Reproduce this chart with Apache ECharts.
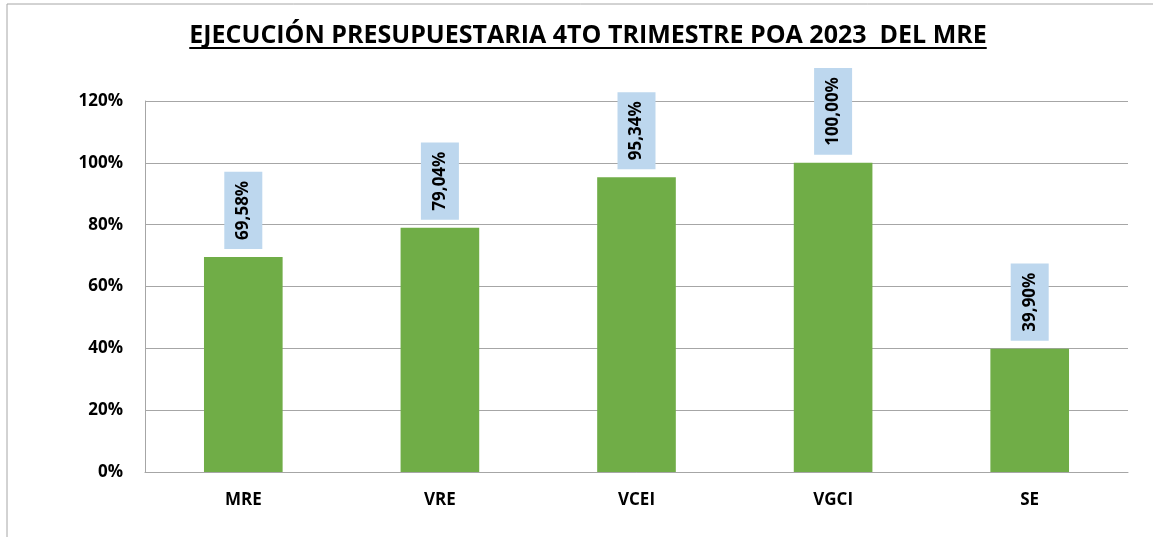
<!DOCTYPE html>
<html>
<head>
<meta charset="utf-8">
<script src="https://cdn.jsdelivr.net/npm/echarts@6/dist/echarts.min.js"></script>
<style>
    html, body {margin: 0; padding: 0; background: #fff;}
    #chart {width: 1153px; height: 537px;}
</style>
</head>
<body>
<div id="chart"></div>
<script>
const chart_title = 'EJECUCIÓN PRESUPUESTARIA 4TO TRIMESTRE POA 2023  DEL MRE';
const categories = ['MRE', 'VRE', 'VCEI', 'VGCI', 'SE'];
const ejecucion = [69.58, 79.04, 95.34, 100.00, 39.90];
const y_ticks = [0, 20, 40, 60, 80, 100, 120];

const font = '"Open Sans", sans-serif';
const title_size = 25;
const title_cx = 588;

function title_width(text, size) {
    let c = document.createElement('canvas').getContext('2d');
    c.font = `bold ${size}px ${font}`;
    return c.measureText(text).width;
}

function draw() {
    const tw = title_width(chart_title, title_size);
    let option = {
        backgroundColor: '#fff',
        animation: false,
        title: {
            text: chart_title, left: title_cx - tw / 2, top: 23, padding: 0,
            textStyle: {fontFamily: font, fontWeight: 'bold', fontSize: title_size, color: '#000'}
        },
        grid: {left: 145, right: 25, top: 101, bottom: 65, containLabel: false},
        xAxis: {
            type: 'category', data: categories,
            axisLine: {lineStyle: {color: '#a6a6a6', width: 1}},
            axisTick: {show: false},
            axisLabel: {fontFamily: font, fontWeight: 'bold', fontSize: 17, color: '#000', margin: 20}
        },
        yAxis: {
            type: 'value', min: 0, max: 120, interval: 20,
            axisLine: {show: true, lineStyle: {color: '#a6a6a6', width: 1}},
            axisTick: {show: false},
            splitLine: {lineStyle: {color: '#a6a6a6', width: 1}},
            axisLabel: {
                fontFamily: font, fontWeight: 'bold', fontSize: 17, color: '#000', margin: 22,
                formatter: function (v) { return y_ticks.includes(v) ? v + '%' : ''; }
            }
        },
        series: [{
            type: 'bar', data: ejecucion, barWidth: '40%',
            itemStyle: {color: '#70ad47'},
            label: {
                show: true, position: 'top', rotate: 90, align: 'left', verticalAlign: 'middle',
                distance: 8,
                fontFamily: font, fontWeight: 'bold', fontSize: 17, color: '#000',
                backgroundColor: '#bdd7ee', padding: [10, 9, 11, 9],
                formatter: function (p) { return p.value.toFixed(2).replace('.', ',') + '%'; }
            }
        }],
        graphic: [
            {type: 'rect', shape: {x: 7, y: 4, width: 1200, height: 600}, style: {fill: 'none', stroke: '#a6a6a6', lineWidth: 1}, silent: true},
            {type: 'line', shape: {x1: title_cx - tw / 2, y1: 48, x2: title_cx + tw / 2, y2: 48}, style: {stroke: '#000', lineWidth: 2}}
        ]
    };
    let my_chart = echarts.init(document.getElementById('chart'));
    my_chart.setOption(option);
}

if (document.fonts && document.fonts.load) {
    document.fonts.load(`bold ${title_size}px "Open Sans"`).then(draw, draw);
} else {
    draw();
}
</script>
</body>
</html>
